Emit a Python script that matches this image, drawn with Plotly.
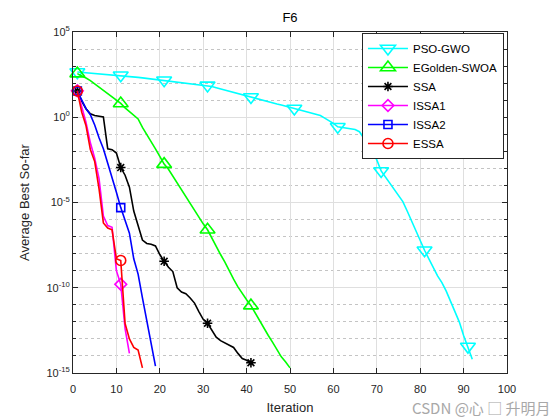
import plotly.graph_objects as go

# ---------------- data (log10 of Average Best So-far) ----------------
series_names = ["PSO-GWO", "EGolden-SWOA", "SSA", "ISSA1", "ISSA2", "ESSA"]

pso_gwo_log10 = [2.65, 2.63, 2.61, 2.60, 2.58, 2.56, 2.54, 2.52, 2.50, 2.48,
                 2.46, 2.43, 2.40, 2.37, 2.34, 2.31, 2.28, 2.25, 2.22, 2.20,
                 2.17, 2.14, 2.11, 2.08, 2.05, 2.02, 1.99, 1.96, 1.93, 1.90,
                 1.87, 1.80, 1.73, 1.66, 1.60, 1.53, 1.46, 1.39, 1.32, 1.26,
                 1.19, 1.12, 1.05, 0.99, 0.92, 0.85, 0.78, 0.72, 0.65, 0.58,
                 0.51, 0.45, 0.38, 0.32, 0.25, 0.18, 0.10, -0.05, -0.20, -0.36,
                 -0.56, -0.60, -0.64, -0.68, -0.72, -0.85, -1.20, -1.60, -2.05, -2.50,
                 -3.15, -3.50, -3.85, -4.20, -4.60, -4.95, -5.50, -6.10, -6.70, -7.30,
                 -7.80, -8.30, -8.80, -9.30, -9.70, -10.20, -10.80, -11.40, -12.00, -12.80,
                 -13.45, -14.19]

egolden_swoa_log10 = [2.56, 2.45, 2.30, 2.15, 1.97, 1.78, 1.60, 1.40, 1.20, 1.00,
                      0.81, 0.55, 0.35, 0.15, -0.10, -0.60, -1.00, -1.40, -1.85, -2.30,
                      -2.75, -3.05, -3.45, -3.85, -4.25, -4.65, -5.05, -5.50, -5.90, -6.25,
                      -6.60, -7.10, -7.60, -8.05, -8.50, -9.05, -9.50, -9.95, -10.35, -10.70,
                      -11.05, -11.50, -11.95, -12.40, -12.80, -13.20, -13.60, -14.05, -14.35, -14.70]

ssa_log10 = [1.54, 0.95, 0.50, 0.20, 0.10, 0.07, 0.02, -1.85, -1.90, -2.10,
             -2.95, -3.40, -4.10, -5.50, -6.40, -7.20, -7.40, -7.45, -7.55, -8.05,
             -8.45, -8.80, -9.05, -10.00, -10.25, -10.35, -10.60, -10.90, -11.40, -11.85,
             -12.08, -12.50, -12.90, -13.10, -13.25, -13.38, -13.50, -13.85, -14.15, -14.25,
             -14.40]

issa1_log10 = [1.55, 0.70, -0.30, -1.50, -2.40, -3.60, -5.80, -6.35, -6.45, -9.00,
               -9.80, -12.40, -13.85]

issa2_log10 = [1.54, 1.00, 0.50, 0.15, -0.45, -1.20, -1.85, -2.70, -3.50, -4.40,
               -5.30, -6.10, -6.80, -8.30, -9.20, -10.60, -11.90, -13.20, -14.60]

essa_log10 = [1.54, 0.30, -0.50, -1.90, -2.60, -4.20, -6.20, -6.50, -6.60, -8.30,
              -8.40, -12.10, -13.00, -13.50, -13.65, -14.70]

all_series = [pso_gwo_log10, egolden_swoa_log10, ssa_log10, issa1_log10, issa2_log10, essa_log10]

x_tick_values = [0, 10, 20, 30, 40, 50, 60, 70, 80, 90, 100]
y_tick_exponents = [-15, -10, -5, 0, 5]
y_tick_labels = ["10<sup>-15</sup>", "10<sup>-10</sup>", "10<sup>-5</sup>", "10<sup>0</sup>", "10<sup>5</sup>"]
marker_every = 10

# ---------------- styles ----------------
colors = ["#00FFFF", "#00FF00", "#000000", "#FF00FF", "#0000FF", "#FF0000"]
symbols = ["triangle-down-open", "triangle-up-open", "asterisk-open", "diamond-open", "square-open", "circle-open"]
msizes = [13, 13, 8, 9, 8, 10]
axis_color = "#262626"
font_family = "Liberation Sans, Arial, Helvetica, sans-serif"

fig = go.Figure()
for name, vals, col, sym, ms in zip(series_names, all_series, colors, symbols, msizes):
    xs = list(range(1, len(vals) + 1))
    ys = [10 ** v for v in vals]
    fig.add_trace(go.Scatter(x=xs, y=ys, mode="lines", line=dict(color=col, width=1.6),
                             showlegend=False, legendgroup=name, hoverinfo="skip"))
    fig.add_trace(go.Scatter(x=xs[::marker_every], y=ys[::marker_every], mode="markers",
                             marker=dict(symbol=sym, size=ms, color=col, line=dict(color=col, width=1.6)),
                             showlegend=False, legendgroup=name, cliponaxis=False))
    fig.add_trace(go.Scatter(x=[None], y=[None], mode="lines+markers", name=name, legendgroup=name,
                             line=dict(color=col, width=1.6),
                             marker=dict(symbol=sym, size=ms, color=col, line=dict(color=col, width=1.6))))

minor_vals = [10.0 ** k for k in range(-14, 5) if k % 5 != 0]

fig.update_layout(
    width=560, height=420,
    margin=dict(l=73, r=53, t=31.5, b=46.5, autoexpand=False),
    paper_bgcolor="white", plot_bgcolor="white",
    font=dict(family=font_family, size=11, color=axis_color),
    title=dict(text="F6", x=0.5, xref="paper", xanchor="center", y=1 - 17 / 420, yanchor="middle",
               font=dict(size=13, color="#000000")),
    showlegend=True,
    legend=dict(x=0.993, xanchor="right", y=0.997, yanchor="top", bgcolor="white",
                bordercolor=axis_color, borderwidth=1, font=dict(size=11.5, color="#000000"),
                tracegroupgap=0, itemclick=False, itemwidth=40),
    xaxis=dict(range=[0, 100], tickmode="array", tickvals=x_tick_values, automargin=False,
               ticks="inside", ticklen=5, tickcolor=axis_color, tickwidth=1,
               showline=True, linecolor=axis_color, linewidth=1, mirror="allticks",
               showgrid=True, gridcolor="#dfdfdf", gridwidth=1, zeroline=False,
               tickfont=dict(size=11, color=axis_color), ticklabelstandoff=6,
               title=dict(text="Iteration", font=dict(size=13, color=axis_color), standoff=8)),
    yaxis=dict(type="log", range=[-15, 5], tickmode="array", automargin=False,
               tickvals=[10.0 ** e for e in y_tick_exponents], ticktext=y_tick_labels,
               ticks="inside", ticklen=5, tickcolor=axis_color, tickwidth=1,
               showline=True, linecolor=axis_color, linewidth=1, mirror="allticks",
               showgrid=True, gridcolor="#dfdfdf", gridwidth=1, zeroline=False,
               tickfont=dict(size=11, color=axis_color),
               minor=dict(tickmode="array", tickvals=minor_vals, ticks="inside", ticklen=3,
                          tickcolor=axis_color, showgrid=True, gridcolor="#c4c4c4", griddash="dot",
                          gridwidth=1),
               title=dict(text="Average Best So-far", font=dict(size=13, color=axis_color), standoff=13)),
)

fig.add_annotation(text="CSDN @心 □ 升明月", xref="paper", yref="paper",
                   x=(553 - 73) / 434, y=(373.5 - 408) / 342, xanchor="right", yanchor="middle",
                   showarrow=False, font=dict(size=15, color="#a8a8a8",
                                              family="Noto Sans CJK SC, Liberation Sans, sans-serif"))

fig.write_html("out.html", config={"displayModeBar": False},
               post_script="document.body.style.margin='0px';")
